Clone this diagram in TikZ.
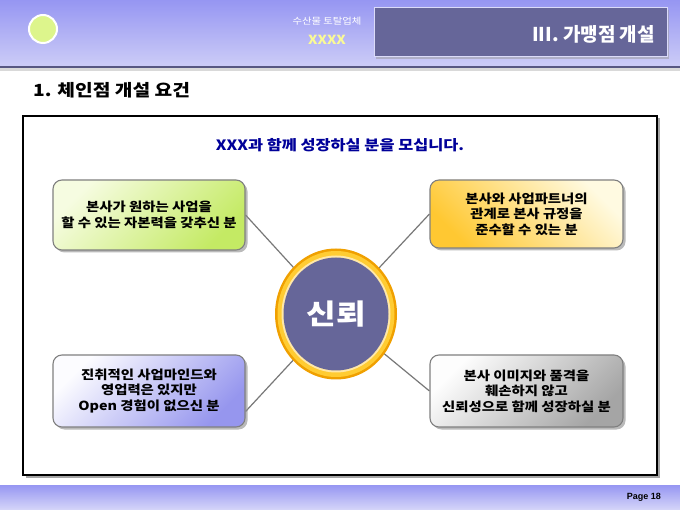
\documentclass[tikz,border=0pt]{standalone}
\usepackage{fontspec}
\setmainfont{Noto Sans CJK KR}[FakeStretch=1.15]
\newfontfamily\plainkr{Noto Sans CJK KR}
\newfontfamily\latinf{Liberation Sans}
\usetikzlibrary{shadows,shapes.geometric}
\definecolor{hdtop}{RGB}{150,150,242}
\definecolor{hdbot}{RGB}{204,204,247}
\definecolor{navy}{RGB}{102,102,153}
\definecolor{limefill}{RGB}{221,245,140}
\definecolor{subblue}{RGB}{0,0,153}
\definecolor{xxyellow}{RGB}{250,250,150}
\definecolor{gA}{RGB}{196,234,100}
\definecolor{gL}{RGB}{246,252,225}
\definecolor{yA}{RGB}{255,200,50}
\definecolor{yL}{RGB}{255,250,225}
\definecolor{pA}{RGB}{150,150,238}
\definecolor{pL}{RGB}{252,252,255}
\definecolor{kA}{RGB}{165,165,165}
\definecolor{kL}{RGB}{253,253,253}
\definecolor{ringO}{RGB}{240,160,0}
\definecolor{ringY}{RGB}{255,204,51}
\definecolor{ringL}{RGB}{255,232,168}
\definecolor{linegray}{RGB}{120,120,120}
\definecolor{cardline}{RGB}{128,128,128}
\pgfdeclarelayer{bg}\pgfdeclarelayer{mid}
\pgfsetlayers{bg,mid,main}
\begin{document}
\begin{tikzpicture}[x=1pt,y=-1pt,
  card/.style={draw=cardline, line width=1.1pt, rounded corners=9pt,
    minimum width=192pt, minimum height=70pt, align=center,
    font=\bfseries\fontsize{12.5}{15.5}\selectfont, inner sep=2pt,
    drop shadow={shadow xshift=2.5pt, shadow yshift=-2.5pt, fill=black!45, opacity=0.6}},
  link/.style={draw=linegray, line width=1.2pt}
]
\useasboundingbox (0,0) rectangle (680,510);
% header band
\shade[top color=hdtop, bottom color=hdbot] (0,0) rectangle (680,66);
\fill[black!15] (0,68.5) rectangle (680,71.5);
\fill[navy!85!black] (0,66) rectangle (680,68.5);
% footer band
\shade[top color=hdtop, bottom color=hdbot!80!white] (0,485) rectangle (680,510);
% header line and dot
\coordinate (lineend) at (374,30);
\node[circle, minimum size=28pt, fill=limefill, draw=white, line width=2pt, inner sep=0pt] (dot) at (43,29) {};
\begin{pgfonlayer}{mid}
\draw[white, line width=1.6pt] (dot.east) -- (lineend);
\end{pgfonlayer}
\node[text=white, font=\fontsize{9}{9}\selectfont, inner sep=0pt] (cat) at (327,21) {수산물 토탈업체};
\node[text=xxyellow, font=\bfseries\fontsize{12.5}{12.5}\selectfont, inner sep=0pt] (xx) at (327,40) {XXXX};
% section box
\node[minimum width=293pt, minimum height=49pt, fill=navy, draw=hdbot!70!white, line width=1pt,
  drop shadow={shadow xshift=2pt, shadow yshift=-2pt, fill=black!40, opacity=0.5}] (sect) at (520.5,32.5) {};
\node[anchor=east, text=white, font=\plainkr\bfseries\fontsize{19}{19}\selectfont, inner sep=0pt] (secttxt) at (655,34) {III. 가맹점 개설};
% title
\node[anchor=west, font=\bfseries\fontsize{16.7}{16.7}\selectfont, inner sep=0pt] (title) at (33,90) {1. 체인점 개설 요건};
% frame
\begin{pgfonlayer}{bg}
\fill[black!35] (25.5,118.5) rectangle (659.5,477.5);
\draw[fill=white, line width=1.3pt] (23,116) rectangle (657,475);
\end{pgfonlayer}
\node[text=subblue, font=\bfseries\fontsize{14.2}{14.2}\selectfont, inner sep=0pt] (sub) at (340,145) {XXX과 함께 성장하실 분을 모십니다.};
% cards
\node[card, top color=gL, bottom color=gA, shading angle=45] (tl) at (149,215) {본사가 원하는 사업을\\할 수 있는 자본력을 갖추신 분};
\node[card, top color=yL, bottom color=yA, shading angle=-45, minimum height=68pt, minimum width=193pt] (tr) at (526.5,214) {본사와 사업파트너의\\관계로 본사 규정을\\준수할 수 있는 분};
\node[card, top color=pL, bottom color=pA, shading angle=45, minimum height=72pt] (bl) at (149,391) {진취적인 사업마인드와\\영업력은 있지만\\Open 경험이 없으신 분};
\node[card, top color=kL, bottom color=kA, shading angle=45, minimum height=72pt, minimum width=193pt] (br) at (526.5,391) {본사 이미지와 품격을\\훼손하지 않고\\신뢰성으로 함께 성장하실 분};
% centre
\node[ellipse, minimum width=122pt, minimum height=131pt, fill=ringO, inner sep=0pt] (core) at (336,314) {};
\fill[ringY] (core.center) ellipse [x radius=58.5, y radius=63];
\fill[ringL] (core.center) ellipse [x radius=54.5, y radius=58.5];
\fill[navy] (core.center) ellipse [x radius=52.5, y radius=56.5];
\node[text=white, font=\bfseries\fontsize{28}{28}\selectfont, inner sep=0pt] (corelabel) at (core.center) {신뢰};
% links
\begin{pgfonlayer}{mid}
\draw[link] (tl.east) -- (core.center);
\draw[link] (tr.west) -- (core.center);
\draw[link] (bl.-12) -- (core.center);
\draw[link] (br.west) -- (core.center);
\end{pgfonlayer}
% footer text
\node[anchor=east, font=\latinf\bfseries\fontsize{9}{9}\selectfont, inner sep=0pt] (page) at (661,497) {Page 18};
\end{tikzpicture}
\end{document}
